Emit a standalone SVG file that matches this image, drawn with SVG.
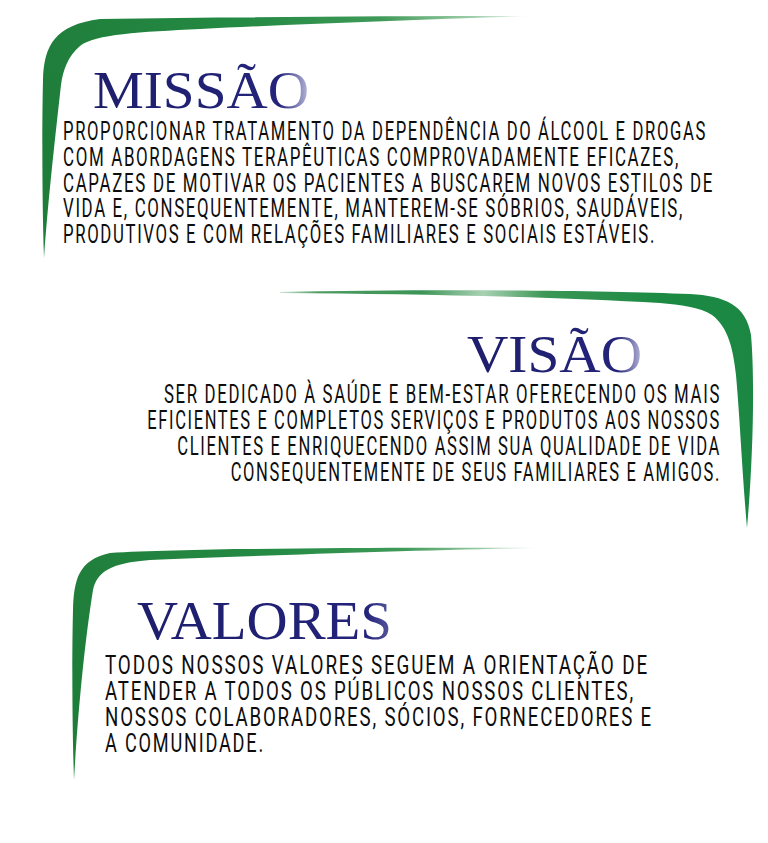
<svg xmlns="http://www.w3.org/2000/svg" width="768" height="843" viewBox="0 0 768 843">
<defs>
<linearGradient id="gMissao" gradientUnits="userSpaceOnUse" x1="40" y1="120" x2="535" y2="17">
<stop offset="0" stop-color="#1f7d3a"/>
<stop offset="0.45" stop-color="#248a44"/>
<stop offset="0.7" stop-color="#3f9a58"/>
<stop offset="0.88" stop-color="#9fcdaa"/>
<stop offset="1" stop-color="#ffffff"/>
</linearGradient>
<linearGradient id="gVisao" gradientUnits="userSpaceOnUse" x1="280" y1="292" x2="752" y2="292">
<stop offset="0" stop-color="#cfe3d5"/>
<stop offset="0.08" stop-color="#4d9b62"/>
<stop offset="0.3" stop-color="#3c9556"/>
<stop offset="0.43" stop-color="#a9d2b4"/>
<stop offset="0.56" stop-color="#3d9756"/>
<stop offset="0.8" stop-color="#1c8a43"/>
<stop offset="1" stop-color="#1b8743"/>
</linearGradient>
<linearGradient id="gValores" gradientUnits="userSpaceOnUse" x1="70" y1="650" x2="542" y2="548">
<stop offset="0" stop-color="#1f7d3a"/>
<stop offset="0.45" stop-color="#248a44"/>
<stop offset="0.72" stop-color="#3f9a58"/>
<stop offset="0.9" stop-color="#a5d0b0"/>
<stop offset="1" stop-color="#ffffff"/>
</linearGradient>
<linearGradient id="gTitle" x1="0" y1="0" x2="1" y2="0">
<stop offset="0" stop-color="#1e1e6c"/>
<stop offset="0.86" stop-color="#24247a"/>
<stop offset="1" stop-color="#b8b8da"/>
</linearGradient>
<linearGradient id="gTitle2" x1="0" y1="0" x2="1" y2="0">
<stop offset="0" stop-color="#1e1e6c"/>
<stop offset="0.9" stop-color="#23237a"/>
<stop offset="1" stop-color="#5a5aa0"/>
</linearGradient>
</defs>
<style>
.title { font-family: "Liberation Serif", "DejaVu Serif", serif; fill: url(#gTitle); }
.body { font-family: Roboto, "Liberation Sans", sans-serif; font-size: 25.5px; font-weight: 400; letter-spacing: 2.5px; fill: #0d0d0d; }
</style>
<rect x="0" y="0" width="768" height="843" fill="#ffffff"/>

<g id="missao">
<path d="M44,258 C42,200 42,120 43,80 C44,45 55,25 100,19 C250,17 400,16 532,16 C430,19 300,24 200,29 C140,32 95,34 80,46 C68,56 63,70 61,85 C56,130 48,200 44,258 Z" fill="url(#gMissao)"/>
<text class="title" x="93" y="108" font-size="52" textLength="216" lengthAdjust="spacingAndGlyphs">MISSÃO</text>
<text class="body" x="63" y="140" textLength="644" lengthAdjust="spacingAndGlyphs">PROPORCIONAR TRATAMENTO DA DEPENDÊNCIA DO ÁLCOOL E DROGAS</text>
<text class="body" x="63" y="165.7" textLength="617" lengthAdjust="spacingAndGlyphs">COM ABORDAGENS TERAPÊUTICAS COMPROVADAMENTE EFICAZES,</text>
<text class="body" x="63" y="191.7" textLength="651" lengthAdjust="spacingAndGlyphs">CAPAZES DE MOTIVAR OS PACIENTES A BUSCAREM NOVOS ESTILOS DE</text>
<text class="body" x="63" y="217.3" textLength="621" lengthAdjust="spacingAndGlyphs">VIDA E, CONSEQUENTEMENTE, MANTEREM-SE SÓBRIOS, SAUDÁVEIS,</text>
<text class="body" x="63" y="243.3" textLength="593" lengthAdjust="spacingAndGlyphs">PRODUTIVOS E COM RELAÇÕES FAMILIARES E SOCIAIS ESTÁVEIS.</text>
</g>

<g id="visao">
<path d="M280,292 C420,289 600,290 690,294 C725,296 746,305 751,335 C755,380 753,460 747,528 C742,470 740,420 736,375 C733,348 728,327 712,315 C700,307 680,305 660,303 C560,297 420,294 280,293 Z" fill="url(#gVisao)"/>
<text class="title" x="467" y="372" font-size="52" textLength="175" lengthAdjust="spacingAndGlyphs">VISÃO</text>
<text class="body" x="164" y="403.3" textLength="557" lengthAdjust="spacingAndGlyphs">SER DEDICADO À SAÚDE E BEM-ESTAR OFERECENDO OS MAIS</text>
<text class="body" x="147.3" y="429.3" textLength="573.7" lengthAdjust="spacingAndGlyphs">EFICIENTES E COMPLETOS SERVIÇOS E PRODUTOS AOS NOSSOS</text>
<text class="body" x="177.3" y="455" textLength="543.7" lengthAdjust="spacingAndGlyphs">CLIENTES E ENRIQUECENDO ASSIM SUA QUALIDADE DE VIDA</text>
<text class="body" x="230.7" y="480.7" textLength="490.3" lengthAdjust="spacingAndGlyphs">CONSEQUENTEMENTE DE SEUS FAMILIARES E AMIGOS.</text>
</g>

<g id="valores">
<path d="M74,780 C72,720 72,650 73,610 C74,580 78,560 110,553 C200,548 400,547 540,548 C420,550 250,556 150,560 C110,563 97,572 93,590 C85,640 78,710 74,780 Z" fill="url(#gValores)"/>
<text class="title" x="137" y="639.3" font-size="54" textLength="255" lengthAdjust="spacingAndGlyphs" style="fill:url(#gTitle2)">VALORES</text>
<text class="body" x="105" y="674" textLength="544" lengthAdjust="spacingAndGlyphs">TODOS NOSSOS VALORES SEGUEM A ORIENTAÇÃO DE</text>
<text class="body" x="105" y="700" textLength="530" lengthAdjust="spacingAndGlyphs">ATENDER A TODOS OS PÚBLICOS NOSSOS CLIENTES,</text>
<text class="body" x="105" y="726" textLength="548" lengthAdjust="spacingAndGlyphs">NOSSOS COLABORADORES, SÓCIOS, FORNECEDORES E</text>
<text class="body" x="105" y="752" textLength="160" lengthAdjust="spacingAndGlyphs">A COMUNIDADE.</text>
</g>
</svg>
